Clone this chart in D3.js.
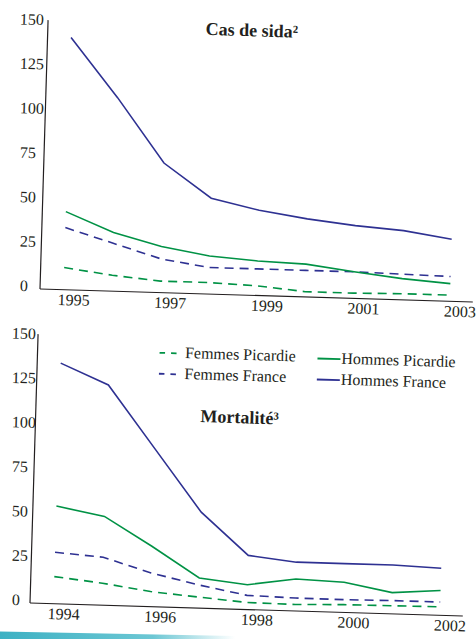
<!DOCTYPE html>
<html>
<head>
<meta charset="utf-8">
<script src="https://cdn.jsdelivr.net/npm/d3@7"></script>
<style>
  html, body { margin: 0; padding: 0; background: #fff; }
  svg { display: block; }
  text { font-family: "Liberation Serif", "DejaVu Serif", serif; fill: #231f20; }
</style>
</head>
<body>
<div id="canvas-body"></div>
<script>
// data: cas de sida (rate), 1995-2003
var yearsSida = [1995, 1996, 1997, 1998, 1999, 2000, 2001, 2002, 2003];
var sidaHommesFrance   = [140, 107, 71, 52, 46, 42, 39, 37, 33];
var sidaHommesPicardie = [42, 31, 24, 19.5, 17.5, 16.5, 13, 10, 8];
var sidaFemmesFrance   = [33, 25, 17, 13, 13, 13, 13, 12.5, 12];
var sidaFemmesPicardie = [10.5, 7, 4.5, 4.5, 3.5, 1, 1, 1.5, 1.5];
var sidaTicks = [1995, 1997, 1999, 2001, 2003];

// data: mortalité, 1994-2002
var yearsMort = [1994, 1995, 1996, 1997, 1998, 1999, 2000, 2001, 2002];
var mortHommesFrance   = [133.5, 122, 87, 52, 28.5, 25.5, 25.5, 25.5, 24.5];
var mortHommesPicardie = [53, 48, 32, 15, 12, 16, 15, 10, 12];
var mortFemmesFrance   = [27, 25, 17, 11, 6, 5.3, 5.2, 5.5, 5.5];
var mortFemmesPicardie = [13.3, 10.4, 6.5, 4.2, 2, 1.7, 2.4, 2.6, 2.8];
var mortTicks = [1994, 1996, 1998, 2000, 2002];

var yTicks = [0, 25, 50, 75, 100, 125, 150];
var seriesNames = ["Femmes Picardie", "Femmes France", "Hommes Picardie", "Hommes France"];

// styles
const blue = "#2e3192", green = "#009245";
const styles = {
    "Femmes Picardie": {color: green, dash: "9,6"},
    "Femmes France":   {color: blue,  dash: "9,6"},
    "Hommes Picardie": {color: green, dash: null},
    "Hommes France":   {color: blue,  dash: null}
};

const width = 476, height = 639;
const angle = 1.72;          // whole picture is slightly tilted
const tilt = Math.tan(angle * Math.PI / 180);
const axisLen = 433, axisH = 269;

var s = d3.select("#canvas-body").append("svg")
    .attr("width", width).attr("height", height);

// bottom gradient strip
var defs = s.append("defs");
var grad = defs.append("linearGradient").attr("id", "strip")
    .attr("x1", "0%").attr("x2", "100%").attr("y1", "0%").attr("y2", "0%");
grad.append("stop").attr("offset", "0%").attr("stop-color", "#3cb1c3");
grad.append("stop").attr("offset", "65%").attr("stop-color", "#6cc7d4");
grad.append("stop").attr("offset", "100%").attr("stop-color", "#ffffff");
s.append("path")
    .attr("d", "M0,631.5 L235,636 L235,639 L0,639 Z")
    .attr("fill", "url(#strip)");

function draw_panel(ox, oy, years, series, ticks, title, titleY, labelX, legend){
    var g = s.append("g")
        .attr("transform", `translate(${ox},${oy}) rotate(${angle})`);

    var x = d3.scaleLinear().domain([years[0], years[years.length - 1]]).range([23.5, 410]);
    var y = d3.scaleLinear().domain([0, 150]).range([-3.5, -270]);

    // axis lines
    g.append("line").attr("x1", 0).attr("y1", 0).attr("x2", 0).attr("y2", -axisH)
        .attr("stroke", "#231f20").attr("stroke-width", 1.2);
    g.append("line").attr("x1", 0).attr("y1", 0).attr("x2", axisLen).attr("y2", 0)
        .attr("stroke", "#231f20").attr("stroke-width", 1.2);

    // y tick labels (left edges stay upright in the reference)
    var ya = g.append("g")
        .call(d3.axisLeft(y).tickValues(yTicks).tickSize(0).tickFormat(d3.format("d")));
    ya.select(".domain").remove();
    ya.selectAll("text")
        .attr("x", function(d){ return labelX + tilt * y(d); })
        .attr("dy", "0.35em")
        .attr("text-anchor", "start")
        .style("font-size", "16px")
        .style("font-family", "Liberation Serif, serif")
        .attr("fill", "#231f20");

    // x tick labels
    var xa = g.append("g")
        .call(d3.axisBottom(x).tickValues(ticks).tickSize(0).tickPadding(4).tickFormat(d3.format("d")));
    xa.select(".domain").remove();
    xa.selectAll("text")
        .attr("x", 10)
        .style("font-size", "16px")
        .style("font-family", "Liberation Serif, serif")
        .attr("fill", "#231f20");

    // lines
    var line = d3.line()
        .x(function(d, i){ return x(years[i]); })
        .y(function(d){ return y(d); });
    seriesNames.forEach(function(name){
        g.append("path")
            .attr("d", line(series[name]))
            .attr("fill", "none")
            .attr("stroke", styles[name].color)
            .attr("stroke-width", 1.6)
            .attr("stroke-dasharray", styles[name].dash);
    });

    // title
    g.append("text")
        .attr("x", 204).attr("y", titleY)
        .attr("text-anchor", "middle")
        .style("font-size", "18px").style("font-weight", "bold")
        .text(title);

    if(legend){
        var items = [
            {name: "Femmes Picardie", lx: 122, tx: 147.5, ty: -249.5},
            {name: "Femmes France",   lx: 122, tx: 147.5, ty: -228.5},
            {name: "Hommes Picardie", lx: 280, tx: 304,   ty: -248.5},
            {name: "Hommes France",   lx: 280, tx: 304,   ty: -227.5}
        ];
        items.forEach(function(it){
            var st = styles[it.name];
            g.append("line")
                .attr("x1", it.lx).attr("x2", it.lx + (st.dash ? 17 : 23))
                .attr("y1", it.ty - 4.5).attr("y2", it.ty - 4.5)
                .attr("stroke", st.color).attr("stroke-width", 1.8)
                .attr("stroke-dasharray", st.dash ? "5.5,6" : null);
            g.append("text")
                .attr("x", it.tx).attr("y", it.ty)
                .style("font-size", "16px")
                .text(it.name);
        });
    }
}

draw_panel(40, 289, yearsSida, {
    "Femmes Picardie": sidaFemmesPicardie,
    "Femmes France": sidaFemmesFrance,
    "Hommes Picardie": sidaHommesPicardie,
    "Hommes France": sidaHommesFrance
}, sidaTicks, "Cas de sida²", -259, -20, false);

draw_panel(30, 603, yearsMort, {
    "Femmes Picardie": mortFemmesPicardie,
    "Femmes France": mortFemmesFrance,
    "Hommes Picardie": mortHommesPicardie,
    "Hommes France": mortHommesFrance
}, mortTicks, "Mortalité³", -186, -18, true);
</script>
</body>
</html>
